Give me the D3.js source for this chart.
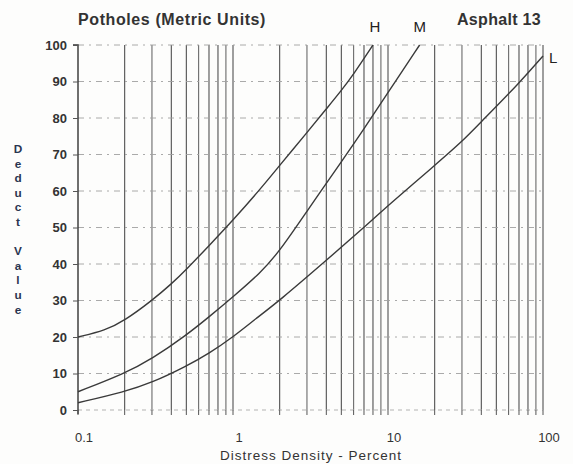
<!DOCTYPE html>
<html><head><meta charset="utf-8">
<script src="https://cdn.jsdelivr.net/npm/d3@7/dist/d3.min.js"></script>
<style>
body{margin:0;background:#fff;}
svg{display:block;}
text{font-family:"Liberation Sans",Arial,sans-serif;}
</style></head>
<body>
<svg id="c" width="573" height="464"></svg>
<script>
// ---- data ----
const title = "Potholes (Metric Units)";
const subtitle = "Asphalt 13";
const xLabel = "Distress Density - Percent";
const yLabel = "Deduct Value";
const xTickLabels = [0.1, 1, 10, 100];
const yTickValues = [0,10,20,30,40,50,60,70,80,90,100];

const densityH = [0.1, 0.15, 0.2, 0.3, 0.4, 0.5, 0.7, 1, 1.5, 2, 3, 4, 5, 6, 8];
const deductH  = [20, 21.8, 24.5, 30, 34.5, 38.5, 45, 52, 60.5, 67, 76, 82.5, 87.5, 92, 100];

const densityM = [0.1, 0.2, 0.3, 0.5, 0.7, 1, 1.5, 2, 3, 5, 7, 10, 16];
const deductM  = [5, 10, 14, 20.5, 25.5, 31, 37.5, 43.5, 54.5, 68, 77, 87, 100];

const densityL = [0.1, 0.2, 0.3, 0.5, 0.7, 1, 1.4, 2, 4, 7, 10, 20, 30, 40, 70, 100];
const deductL  = [2, 5, 7.5, 12, 15.5, 20, 25, 30, 41, 50, 56, 67, 73.5, 79, 89.5, 97];

const seriesNames = ["H", "M", "L"];

// ---- chart ----
const svg = d3.select("#c");
const x = d3.scaleLog().domain([0.1, 100]).range([78, 543]);
const y = d3.scaleLinear().domain([0, 100]).range([410, 45]);

svg.append("rect").attr("width",573).attr("height",464).attr("fill","#fdfdfc");

// vertical grid lines
const vGrid = [];
[0.1, 1, 10].forEach(d => { for (let k = 1; k <= 9; k++) vGrid.push(+(d*k).toPrecision(3)); });
vGrid.push(100);
svg.append("g").selectAll("line").data(vGrid.filter(v => v > 0.1)).join("line")
  .attr("x1", d => x(d)).attr("x2", d => x(d))
  .attr("y1", y(100)).attr("y2", y(0))
  .attr("stroke", (d,i) => (i % 3 === 1) ? "#6a6a6a" : "#505050")
  .attr("stroke-width", 1.1);

// horizontal grid lines (dashed, faint)
svg.append("g").selectAll("line").data(yTickValues.filter(v => v > 0)).join("line")
  .attr("x1", x(0.1)).attr("x2", x(100))
  .attr("y1", d => y(d)).attr("y2", d => y(d))
  .attr("stroke", "#a0a0a0").attr("stroke-width", 0.9)
  .attr("stroke-dasharray", "6,5,2,5");
svg.append("line").attr("x1", x(0.1)).attr("x2", x(100))
  .attr("y1", y(0)).attr("y2", y(0))
  .attr("stroke", "#aaa").attr("stroke-width", 0.9).attr("stroke-dasharray","4,4");

// left axis
const yAxis = d3.axisLeft(y).tickValues(yTickValues).tickSize(5).tickPadding(6);
const gy = svg.append("g").attr("transform", `translate(${x(0.1)},0)`).call(yAxis);
gy.select(".domain").attr("stroke", "#333").attr("stroke-width", 1.4).attr("d", `M-5,${y(100)}H0V${y(0)+4}`);
gy.selectAll(".tick line").attr("stroke", "#555");
gy.selectAll(".tick text").attr("font-size", 13).attr("fill", "#333").attr("font-weight", "bold");

// bottom tick marks at grid lines
svg.append("g").selectAll("line").data(vGrid).join("line")
  .attr("x1", d => x(d)).attr("x2", d => x(d))
  .attr("y1", y(0)).attr("y2", y(0)+5)
  .attr("stroke", "#555");

// x tick labels
svg.append("g").selectAll("text").data(xTickLabels).join("text")
  .attr("x", d => x(d) + 6).attr("y", 442)
  .attr("text-anchor", "middle").attr("font-size", 13).attr("fill", "#333")
  .text(d => String(d));

// curves
const line = d3.line().x(d => x(d[0])).y(d => y(d[1])).curve(d3.curveBasis);
const series = [
  d3.zip(densityH, deductH),
  d3.zip(densityM, deductM),
  d3.zip(densityL, deductL)
];
svg.append("g").selectAll("path").data(series).join("path")
  .attr("d", line).attr("fill", "none")
  .attr("stroke", "#3a3a3a").attr("stroke-width", 1.4);

// series labels
const lab = svg.append("g").attr("font-size", 15).attr("fill", "#222");
lab.append("text").attr("x", x(densityH[densityH.length-1]) + 2).attr("y", 32).attr("text-anchor","middle").text(seriesNames[0]);
lab.append("text").attr("x", x(densityM[densityM.length-1])).attr("y", 32).attr("text-anchor","middle").text(seriesNames[1]);
lab.append("text").attr("x", x(densityL[densityL.length-1]) + 6).attr("y", y(deductL[deductL.length-1]) + 7).attr("text-anchor","start").text(seriesNames[2]);

// titles
svg.append("text").attr("x", 78).attr("y", 25).attr("font-size", 16).attr("font-weight","bold")
  .attr("letter-spacing", 0.6).attr("fill","#333").text(title);
svg.append("text").attr("x", 457).attr("y", 25).attr("font-size", 16).attr("font-weight","bold")
  .attr("letter-spacing", 0.3).attr("fill","#333").text(subtitle);

// x label
svg.append("text").attr("x", 311).attr("y", 460).attr("text-anchor","middle")
  .attr("font-size", 13.5).attr("fill","#333").attr("letter-spacing", 1).text(xLabel);

// y label, stacked upright letters in one text element
svg.append("text")
  .attr("x", 18).attr("y", 142)
  .attr("writing-mode", "vertical-rl")
  .style("text-orientation", "upright")
  .attr("letter-spacing", 0.6)
  .attr("font-size", 11.8).attr("font-weight","bold")
  .attr("fill","#2a3550").text(yLabel);
</script>
</body></html>
